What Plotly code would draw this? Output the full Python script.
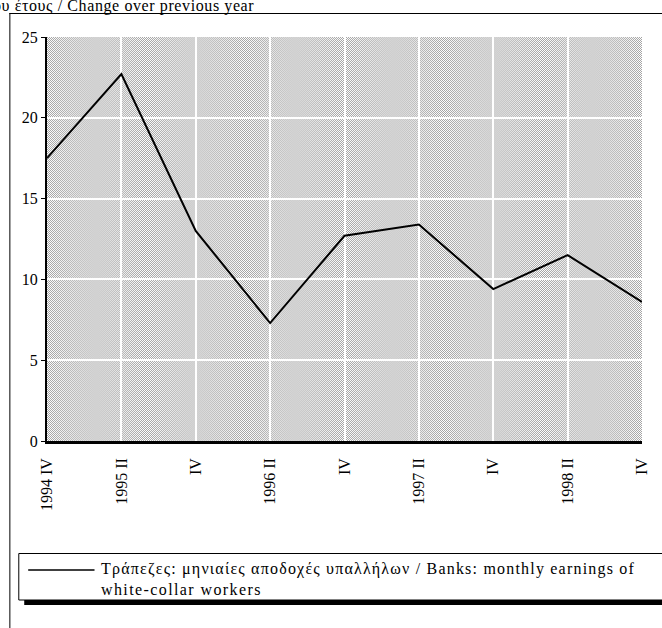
import base64
import plotly.graph_objects as go

# ---- data ----
periods = ["1994 IV", "1995 II", "IV", "1996 II", "IV", "1997 II", "IV", "1998 II", "IV"]
bank_earnings = [17.5, 22.7, 13.0, 7.3, 12.7, 13.4, 9.4, 11.5, 8.6]
y_ticks = [0, 5, 10, 15, 20, 25]
title_text = ("Μεταβολή % έναντι του αντίστοιχου διαστήματος του προηγούμενου έτους"
              " / Change over previous year")
series_lines = ["Τράπεζες: μηνιαίες αποδοχές υπαλλήλων / Banks: monthly earnings of",
                "white-collar workers"]

W, H = 662, 628
L, R, T, B = 47, 648, 37, 441  # plot area in page pixels


def px(x):
    return (x - L) / (R - L)


def py(y):
    return (B - y) / (B - T)


xpos = list(range(len(periods)))
FONT = "Times New Roman, Liberation Serif, DejaVu Serif, serif"

fig = go.Figure()
fig.add_trace(go.Scatter(
    x=xpos, y=bank_earnings, mode="lines",
    line=dict(color="black", width=2),
    name="Banks", showlegend=False, hoverinfo="skip",
))

# dotted halftone background of the plot area
svg = ('<svg xmlns="http://www.w3.org/2000/svg" width="601" height="404">'
       '<defs><pattern id="p" width="2" height="2" patternUnits="userSpaceOnUse">'
       '<rect width="2" height="2" fill="#ffffff"/>'
       '<rect x="0" y="0" width="1" height="1" fill="#a4a4a4"/>'
       '<rect x="1" y="1" width="1" height="1" fill="#a4a4a4"/>'
       '</pattern></defs><rect width="601" height="404" fill="url(#p)"/></svg>')
src = "data:image/svg+xml;base64," + base64.b64encode(svg.encode()).decode()

shapes = [
    # outer frame (left and top)
    dict(type="line", xref="paper", yref="paper", x0=px(9.5), x1=px(9.5), y0=py(13), y1=py(640),
         line=dict(color="black", width=1)),
    dict(type="line", xref="paper", yref="paper", x0=px(9), x1=px(670), y0=py(13.5), y1=py(13.5),
         line=dict(color="black", width=1)),
    # legend shadow
    dict(type="rect", xref="paper", yref="paper", x0=px(24), x1=px(680), y0=py(599), y1=py(605),
         fillcolor="black", line=dict(width=0)),
    # legend box
    dict(type="rect", xref="paper", yref="paper", x0=px(18.5), x1=px(680), y0=py(553.5), y1=py(600),
         fillcolor="white", line=dict(color="black", width=1)),
    # legend sample line
    dict(type="line", xref="paper", yref="paper", x0=px(28), x1=px(95), y0=py(570), y1=py(570),
         line=dict(color="black", width=1.5)),
]

legend_text = ('<span style="letter-spacing:1.2px">' + series_lines[0] + '</span><br>'
               '<span style="letter-spacing:1.4px">' + series_lines[1] + '</span>')

annotations = [
    dict(text='<span style="letter-spacing:0.6px">' + title_text + '</span>',
         xref="paper", yref="paper", x=px(258), y=py(6),
         xanchor="right", yanchor="middle", showarrow=False,
         font=dict(family=FONT, size=16, color="black")),
    dict(text=legend_text,
         xref="paper", yref="paper", x=px(100), y=py(579),
         xanchor="left", yanchor="middle", align="left", showarrow=False,
         font=dict(family=FONT, size=16, color="black")),
]

fig.update_layout(
    width=W, height=H,
    margin=dict(l=L, r=W - R, t=T, b=H - B, pad=0),
    paper_bgcolor="white", plot_bgcolor="white",
    font=dict(family=FONT, size=16, color="black"),
    showlegend=False,
    shapes=shapes, annotations=annotations,
    images=[dict(source=src, xref="paper", yref="paper", x=0, y=1, sizex=1, sizey=1,
                 xanchor="left", yanchor="top", sizing="stretch", layer="below")],
    xaxis=dict(range=[0, len(periods) - 1], tickvals=xpos, ticktext=periods,
               tickangle=-90, showgrid=True, gridcolor="white", gridwidth=2,
               showline=True, linecolor="black", linewidth=2.5,
               ticks="outside", ticklen=8, tickcolor="rgba(0,0,0,0)",
               zeroline=False, tickfont=dict(family=FONT, size=16)),
    yaxis=dict(range=[0, 25], tickvals=y_ticks, showgrid=True, gridcolor="white",
               gridwidth=2, showline=True, linecolor="black", linewidth=2,
               ticks="outside", ticklen=4, tickcolor="black", tickwidth=1,
               zeroline=False, tickfont=dict(family=FONT, size=16)),
)

fig.write_html("out.html",
               config={"displayModeBar": False},
               post_script="document.body.style.margin='0px';"
                           "document.body.style.overflow='hidden';")
